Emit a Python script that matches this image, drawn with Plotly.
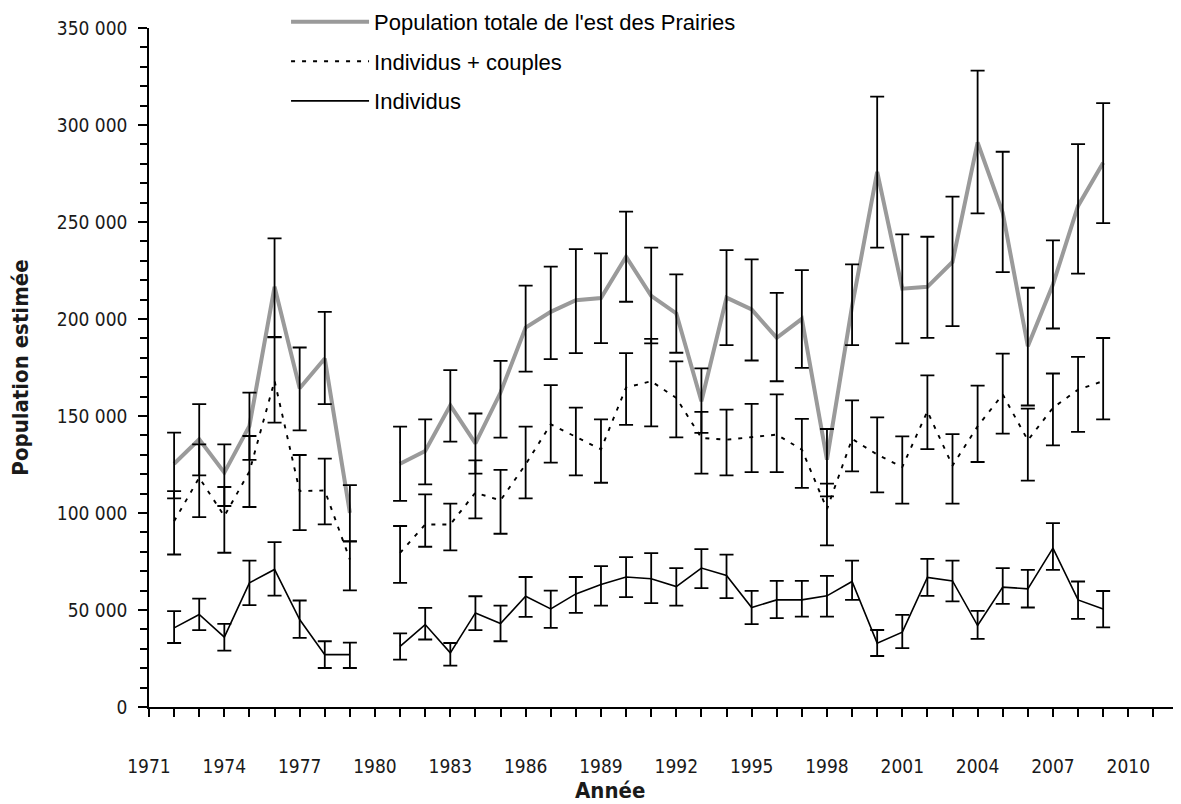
import plotly.graph_objects as go

years = list(range(1972, 2010))

# Population totale de l'est des Prairies (central estimate, upper and lower CI), in thousands
total = [125.4, 138.0, 120.8, 144.9, 216.6, 164.3, 179.6, 100.1, None,
         125.4, 132.0, 155.5, 135.9, 162.1, 195.6, 203.7, 209.7, 210.8, 232.1,
         211.9, 202.9, 157.6, 211.0, 204.9, 190.3, 200.1, 127.5, 206.6, 275.8,
         215.6, 216.6, 229.4, 291.0, 254.8, 186.0, 217.8, 258.3, 280.6]
total_hi = [141.4, 156.1, 135.4, 162.1, 241.6, 185.3, 203.7, 114.4, None,
            144.5, 148.3, 173.6, 151.3, 178.4, 217.2, 227.0, 236.0, 233.8, 255.3,
            236.8, 223.0, 174.5, 235.5, 230.7, 213.5, 225.2, 143.3, 228.2, 314.6,
            243.6, 242.4, 263.1, 328.0, 286.2, 216.1, 240.5, 290.1, 311.3]
total_lo = [107.5, 119.4, 103.6, 127.4, 190.8, 142.6, 156.1, 85.2, None,
            106.2, 114.8, 136.8, 120.3, 138.9, 172.9, 179.3, 182.4, 187.6, 208.9,
            187.4, 182.6, 141.3, 186.5, 178.6, 167.9, 174.8, 108.6, 186.5, 236.8,
            187.4, 190.3, 196.3, 254.4, 224.2, 155.4, 195.1, 223.4, 249.4]

# Individus + couples
pairs = [95.8, 118.2, 98.4, 121.4, 168.1, 111.3, 111.6, 76.0, None,
         79.5, 94.1, 94.1, 110.5, 106.5, 125.1, 145.7, 139.4, 132.8, 164.7,
         167.9, 159.3, 138.7, 137.8, 139.2, 140.4, 132.7, 102.0, 138.2, 130.1,
         123.7, 152.4, 124.4, 144.7, 161.1, 137.5, 154.2, 163.6, 168.0]
pairs_hi = [111.3, 135.4, 113.4, 139.7, 190.5, 129.9, 128.0, 85.5, None,
            93.3, 109.6, 104.8, 127.1, 122.2, 144.5, 165.9, 154.3, 148.3, 182.4,
            189.8, 178.2, 152.1, 153.3, 156.2, 161.1, 148.5, 115.1, 158.1, 149.3,
            139.5, 170.9, 140.7, 165.7, 182.2, 153.8, 171.9, 180.5, 190.2]
pairs_lo = [78.6, 97.9, 79.5, 103.1, 146.6, 91.2, 94.1, 60.1, None,
            64.0, 82.6, 80.7, 97.2, 89.3, 107.5, 126.0, 119.4, 115.6, 145.4,
            144.7, 139.0, 120.3, 119.4, 121.1, 121.1, 112.9, 83.3, 121.5, 110.6,
            104.8, 132.9, 104.8, 126.3, 140.9, 116.7, 134.9, 141.8, 148.3]

# Individus
indiv = [40.8, 47.7, 36.0, 64.0, 70.9, 45.1, 27.0, 27.0, None,
         31.3, 42.5, 27.9, 48.5, 43.0, 57.1, 50.6, 58.3, 63.1, 67.0,
         66.1, 62.1, 71.6, 67.8, 51.3, 55.2, 55.2, 57.3, 64.7, 32.9,
         38.6, 66.8, 65.0, 42.0, 61.8, 60.9, 81.9, 55.2, 50.5]
indiv_hi = [49.4, 55.9, 42.8, 75.5, 85.0, 54.9, 33.9, 33.2, None,
            37.9, 51.1, 33.0, 57.1, 52.3, 67.0, 60.0, 67.0, 72.6, 77.3,
            79.3, 71.6, 81.4, 78.5, 59.9, 65.0, 65.0, 67.6, 75.4, 39.7,
            47.5, 76.4, 75.4, 49.6, 71.6, 70.7, 94.8, 64.7, 59.8]
indiv_lo = [33.0, 39.6, 29.1, 52.5, 57.4, 35.6, 20.1, 20.1, None,
            24.4, 34.8, 21.3, 39.6, 33.9, 46.5, 40.8, 48.5, 52.3, 56.6,
            53.5, 52.3, 61.3, 56.1, 42.7, 45.8, 46.6, 46.6, 55.2, 26.3,
            30.3, 57.3, 54.4, 35.1, 53.2, 51.3, 70.7, 45.4, 41.0]

names = ["Population totale de l'est des Prairies", "Individus + couples", "Individus"]
x_ticks = list(range(1971, 2011, 3))
y_ticks = list(range(0, 350001, 50000))
x_title = "Année"
y_title = "Population estimée"


def scale(v):
    return [None if a is None else a * 1000 for a in v]


def err_up(v, hi):
    return [None if a is None else (h - a) * 1000 for a, h in zip(v, hi)]


def err_dn(v, lo):
    return [None if a is None else (a - l) * 1000 for a, l in zip(v, lo)]


series = [
    (names[0], total, total_hi, total_lo, dict(color="#9a9a9a", width=4)),
    (names[1], pairs, pairs_hi, pairs_lo, dict(color="black", width=1.9, dash="4px,7px")),
    (names[2], indiv, indiv_hi, indiv_lo, dict(color="black", width=1.6)),
]

fig = go.Figure()
for i, (nm, v, hi, lo, ln) in enumerate(series):
    fig.add_trace(go.Scatter(
        x=years, y=scale(v), mode="lines", name=nm, line=ln,
        connectgaps=False, legendgroup=f"g{i}", hoverinfo="skip"))

# error bars drawn on top of all lines
for nm, v, hi, lo, ln in series:
    fig.add_trace(go.Scatter(
        x=years, y=scale(v), mode="markers", showlegend=False,
        marker=dict(size=1, color="rgba(0,0,0,0)"),
        error_y=dict(type="data", symmetric=False,
                     array=err_up(v, hi), arrayminus=err_dn(v, lo),
                     color="black", thickness=1.8, width=7)))

cond = "DejaVu Sans Condensed, Liberation Sans Narrow, Arial Narrow, sans-serif"
txt = "#1a1a1a"

fig.add_annotation(text=f"<b>{x_title}</b>", xref="paper", yref="paper",
                   x=(610 - 149) / 1032, y=-(790 - 707) / 679,
                   xanchor="center", yanchor="middle", showarrow=False,
                   font=dict(family=cond, size=22, color=txt))

# the page body adds an 8 px offset, so the figure is 8 px smaller than the window
fig.update_layout(
    width=1173, height=796,
    margin=dict(l=141, r=0, t=20, b=97, autoexpand=False),
    paper_bgcolor="white", plot_bgcolor="white",
    separators=", ",
    font=dict(family=cond, color=txt),
    showlegend=True,
    legend=dict(x=0.1328, y=1.04, xanchor="left", yanchor="top",
                font=dict(family="Liberation Sans, Arial, sans-serif", size=22, color="black"),
                itemwidth=78, tracegroupgap=8, traceorder="grouped",
                bgcolor="rgba(0,0,0,0)"),
    xaxis=dict(range=[1971, 2012.1], tickmode="array", tickvals=x_ticks,
               ticks="outside", ticklen=8, tickwidth=1.5, tickcolor="black",
               showline=True, linecolor="black", linewidth=1.5,
               showgrid=False, zeroline=False,
               minor=dict(dtick=1, tick0=1971, ticks="outside", ticklen=8,
                          tickwidth=1.5, tickcolor="black", showgrid=False),
               tickfont=dict(family=cond, size=19, color=txt),
               ticklabelstandoff=33),
    yaxis=dict(range=[0, 350000], tickmode="array", tickvals=y_ticks,
               tickformat=",d",
               ticks="outside", ticklen=9, tickwidth=1.5, tickcolor="black",
               showline=True, linecolor="black", linewidth=1.5,
               showgrid=False, zeroline=False,
               minor=dict(dtick=10000, tick0=0, ticks="outside", ticklen=7,
                          tickwidth=1.5, tickcolor="black", showgrid=False),
               tickfont=dict(family=cond, size=19, color=txt),
               ticklabelstandoff=7,
               title=dict(text=f"<b>{y_title}</b>", standoff=24,
                          font=dict(family=cond, size=22, color=txt))),
)

fig.write_html("out.html")
